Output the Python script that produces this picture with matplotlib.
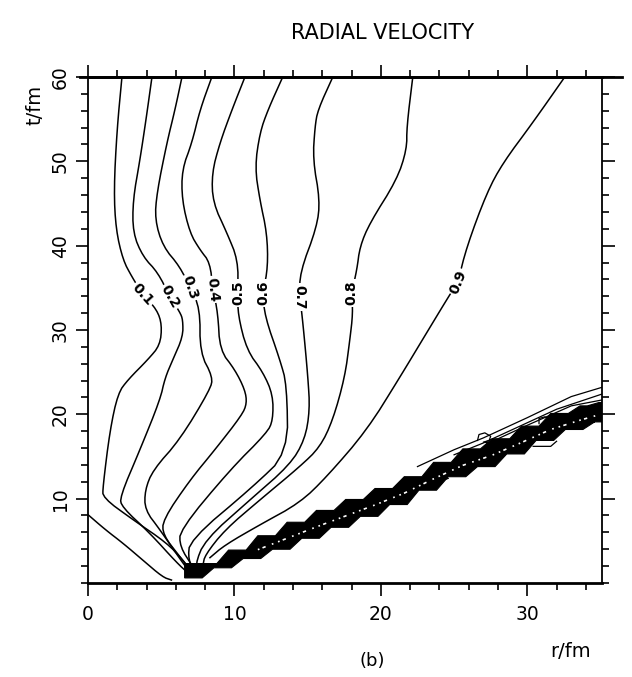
import matplotlib
matplotlib.use('Agg')
import matplotlib.pyplot as plt
from matplotlib.ticker import MultipleLocator

# contour lines of the radial velocity, (r/fm, t/fm)
levels = ['0.1', '0.2', '0.3', '0.4', '0.5', '0.6', '0.7', '0.8', '0.9']

c00_r = [0.0, 1.2, 2.4, 3.75, 5.1, 5.7]
c00_t = [8.1, 6.3, 4.7, 2.7, 0.7, 0.35]

c01_r = [2.32, 1.98, 1.77, 1.91, 2.39, 3.0, 3.75, 4.71, 5.05, 4.92, 4.1, 2.73, 2.05, 1.5, 1.02, 1.02, 3.07, 5.39, 6.48, 7.1]
c01_t = [60, 53.7, 46.6, 41.9, 38.3, 36.3, 34.2, 32.4, 30.6, 28.2, 26.5, 24.1, 22.5, 18.1, 11.4, 10.1, 7.5, 4.74, 2.73, 1.3]

c02_r = [4.37, 3.96, 3.55, 3.07, 3.07, 3.75, 4.78, 5.6, 6.28, 6.48, 6.48, 5.8, 5.26, 4.92, 3.55, 2.18, 2.32, 4.23, 6.08, 6.83]
c02_t = [60, 54.9, 50.2, 45.4, 41.5, 38.7, 36.8, 33.9, 32.1, 31.2, 29.2, 26.5, 24.3, 21.7, 15.8, 10.2, 9.0, 5.9, 2.37, 1.19]

c03_r = [6.42, 5.94, 5.39, 4.71, 4.57, 5.12, 6.28, 6.96, 7.65, 7.65, 8.53, 8.33, 6.28, 4.44, 3.89, 3.89, 4.92, 6.42, 6.96]
c03_t = [60, 56.1, 52.2, 46.3, 43.1, 39.9, 37.5, 35.0, 32.6, 27.3, 24.4, 22.9, 17.0, 13.4, 11.0, 8.66, 6.3, 2.5, 1.3]

c04_r = [8.46, 7.65, 7.1, 6.42, 6.42, 6.96, 7.65, 8.33, 8.53, 8.87, 9.01, 10.03, 10.72, 10.85, 10.51, 8.67, 6.96, 5.12, 5.12, 6.28, 7.1]
c04_t = [60, 56.1, 52.2, 49.0, 45.4, 41.5, 39.5, 38.0, 34.8, 32.0, 27.6, 25.3, 22.9, 21.3, 19.9, 15.8, 12.2, 7.5, 5.7, 3.1, 1.3]

c05_r = [10.72, 9.83, 9.01, 8.46, 8.53, 9.49, 10.24, 10.24, 10.24, 10.85, 11.95, 12.63, 12.63, 12.22, 9.69, 6.28, 6.28, 7.17]
c05_t = [60, 56.1, 52.2, 48.6, 45.1, 41.5, 38.3, 34.4, 31.8, 27.6, 25.0, 22.3, 19.3, 17.8, 13.4, 6.3, 4.3, 1.9]

c06_r = [13.3, 12.29, 11.74, 11.4, 11.74, 12.22, 12.29, 11.95, 12.08, 13.1, 13.58, 13.65, 11.26, 6.96, 6.83, 7.44]
c06_t = [60, 56.1, 53.4, 49.3, 45.4, 41.5, 37.5, 34.4, 31.6, 26.5, 23.5, 15.4, 11.4, 5.1, 2.7, 0.95]

c07_r = [16.72, 15.7, 15.5, 15.36, 15.84, 15.63, 14.47, 14.47, 14.68, 15.02, 15.15, 14.81, 13.79, 11.06, 7.99, 7.3, 7.65]
c07_t = [60, 56.1, 54.1, 50.2, 45.4, 42.2, 36.8, 33.9, 30.8, 24.4, 20.5, 17.0, 14.0, 9.85, 5.1, 2.1, 0.95]

c08_r = [22.18, 21.77, 21.77, 21.09, 19.25, 18.57, 18.36, 18.0, 18.09, 17.88, 17.54, 16.72, 15.84, 14.47, 11.74, 9.35, 7.99, 7.85]
c08_t = [60, 54.1, 51.4, 47.8, 42.7, 39.9, 37.1, 34.4, 32.0, 28.8, 24.4, 19.3, 16.1, 13.8, 9.85, 6.3, 3.3, 2.1]

c09_r = [32.56, 30.38, 28.33, 27.24, 25.87, 25.26, 24.5, 23.14, 21.3, 19.04, 16.31, 14.47, 11.74, 9.35, 8.33]
c09_t = [60, 54.6, 49.8, 46.3, 39.9, 35.7, 33.6, 29.7, 24.4, 18.1, 12.6, 9.5, 6.9, 4.5, 3.0]

# label positions and text angles (screen degrees)
lab_r = [3.75, 5.6, 6.96, 8.53, 10.24, 11.95, 14.47, 18.0, 25.26]
lab_t = [34.2, 33.9, 35.0, 34.8, 34.4, 34.4, 33.9, 34.4, 35.7]
lab_rot = [-48, -60, -72, -84, 90, 90, -90, 90, 68]

# shock front: staircase band (block start r, lower level, upper level)
band_r = [6.6, 8.6, 10.6, 12.6, 14.6, 16.6, 18.6, 20.6, 22.6, 24.6, 26.6, 28.6, 30.6, 32.6, 34.6, 35.2]
band_lo = [0.6, 1.8, 2.9, 4.0, 5.3, 6.6, 7.9, 9.3, 11.0, 12.6, 13.8, 15.3, 16.9, 18.2, 19.1]
band_hi = [2.3, 3.9, 5.6, 7.2, 8.6, 9.9, 11.2, 12.6, 14.3, 15.9, 17.1, 18.6, 20.1, 21.0, 21.4]

# thin contours running just above the front
s1_r = [22.5, 25.0, 27.0, 30.0, 33.0, 35.1]
s1_t = [13.8, 15.8, 17.2, 19.6, 22.1, 23.2]
s2_r = [25.0, 27.0, 29.0, 32.0, 35.1]
s2_t = [15.2, 16.6, 18.2, 20.6, 22.4]
s3_r = [27.5, 30.0, 33.0, 35.1]
s3_t = [16.7, 18.7, 21.0, 21.7]
loop1_r = [26.6, 26.7, 27.1, 27.5, 27.4, 27.0, 27.6, 28.2]
loop1_t = [16.9, 17.6, 17.8, 17.4, 16.9, 16.7, 16.6, 16.8]
loop2_r = [30.8, 30.8, 31.2, 31.6, 31.5, 31.1, 31.6]
loop2_t = [18.9, 19.5, 19.7, 19.4, 19.0, 18.8, 18.7]
hook1_r = [22.0, 23.6, 24.6]
hook1_t = [11.6, 11.8, 12.4]
hook2_r = [30.4, 31.6, 32.0]
hook2_t = [16.2, 16.2, 16.8]

lines_r = [c01_r, c02_r, c03_r, c04_r, c05_r, c06_r, c07_r, c08_r, c09_r]
lines_t = [c01_t, c02_t, c03_t, c04_t, c05_t, c06_t, c07_t, c08_t, c09_t]


def smooth(xs, ys, n=2):
    # corner cutting so the traced polylines look like pen strokes
    for _ in range(n):
        nx, ny = [xs[0]], [ys[0]]
        for i in range(len(xs) - 1):
            nx += [0.75 * xs[i] + 0.25 * xs[i + 1], 0.25 * xs[i] + 0.75 * xs[i + 1]]
            ny += [0.75 * ys[i] + 0.25 * ys[i + 1], 0.25 * ys[i] + 0.75 * ys[i + 1]]
        nx.append(xs[-1])
        ny.append(ys[-1])
        xs, ys = nx, ny
    return xs, ys


plt.rcParams['font.family'] = ['DejaVu Sans']
fig = plt.figure(figsize=(6.32, 6.77), dpi=100)
ax = fig.add_axes([0.1392, 0.1389, 0.8133, 0.7474])

ax.plot(*smooth(c00_r, c00_t), color='black', lw=1.1)
for rr, tt in zip(lines_r, lines_t):
    ax.plot(*smooth(rr, tt), color='black', lw=1.1)
for i in range(len(levels)):
    ax.text(lab_r[i], lab_t[i], levels[i], rotation=lab_rot[i], ha='center', va='center',
            fontsize=10, fontweight='bold', rotation_mode='anchor',
            bbox=dict(facecolor='white', edgecolor='none', pad=1.0), zorder=3)

# shock band: slanted steps, the upper edge steps half a block after the lower one
slant = 0.8
n = len(band_lo)
lower = []
for i in range(n):
    lower += [(band_r[i], band_lo[i]), (band_r[i + 1] - slant, band_lo[i])]
lower.append((band_r[-1], band_lo[-1]))
upper = [(band_r[0], band_hi[0])]
for i in range(1, n):
    half = band_r[i] + 0.5 * (band_r[i + 1] - band_r[i])
    upper += [(half - slant, band_hi[i - 1]), (half, band_hi[i])]
upper.append((band_r[-1], band_hi[-1]))
poly = lower + upper[::-1]
ax.fill([p[0] for p in poly], [p[1] for p in poly], facecolor='black', edgecolor='black', lw=0.8, zorder=4)
mid_r = [band_r[i] + 0.5 * (band_r[i + 1] - band_r[i]) for i in range(2, n)]
mid_t = [0.5 * (band_lo[i] + band_hi[i]) - 0.3 for i in range(2, n)]
ax.plot(mid_r, mid_t, color='white', lw=1.2, ls=(0, (1, 2, 2, 4, 1, 3)), zorder=5)
for rr, tt in [(s1_r, s1_t), (s2_r, s2_t), (s3_r, s3_t), (loop1_r, loop1_t),
               (loop2_r, loop2_t), (hook1_r, hook1_t), (hook2_r, hook2_t)]:
    ax.plot(rr, tt, color='black', lw=0.9, zorder=4)

ax.set_xlim(0, 35.1)
ax.set_ylim(0, 60)
ax.xaxis.set_minor_locator(MultipleLocator(2))
ax.yaxis.set_minor_locator(MultipleLocator(2))
ax.set_xticks([0, 10, 20, 30])
ax.set_yticks([10, 20, 30, 40, 50, 60])
ax.tick_params(which='both', direction='out', top=True, right=True, width=1.2, labelsize=13.5)
ax.tick_params(which='major', length=9, pad=7)
ax.tick_params(axis='y', which='major', pad=4)
ax.tick_params(which='minor', length=5)
for lab in ax.get_yticklabels():
    lab.set_rotation(90)
    lab.set_va('center')
ax.spines['top'].set_linewidth(2.0)
ax.spines['bottom'].set_linewidth(2.0)
ax.spines['left'].set_linewidth(1.3)
ax.spines['right'].set_linewidth(1.3)
ax.plot([-0.016, 1.039], [1, 1], transform=ax.transAxes, color='black', lw=2.0, clip_on=False)

ax.text(0.574, 1.087, 'RADIAL VELOCITY', transform=ax.transAxes, ha='center', va='center', fontsize=15)
ax.text(-0.103, 0.945, 't/fm', transform=ax.transAxes, ha='center', va='center', fontsize=14, rotation=90)
ax.text(0.938, -0.136, 'r/fm', transform=ax.transAxes, ha='center', va='center', fontsize=14)
ax.text(0.553, -0.154, '(b)', transform=ax.transAxes, ha='center', va='center', fontsize=13)

fig.savefig('out.png', dpi=100)
